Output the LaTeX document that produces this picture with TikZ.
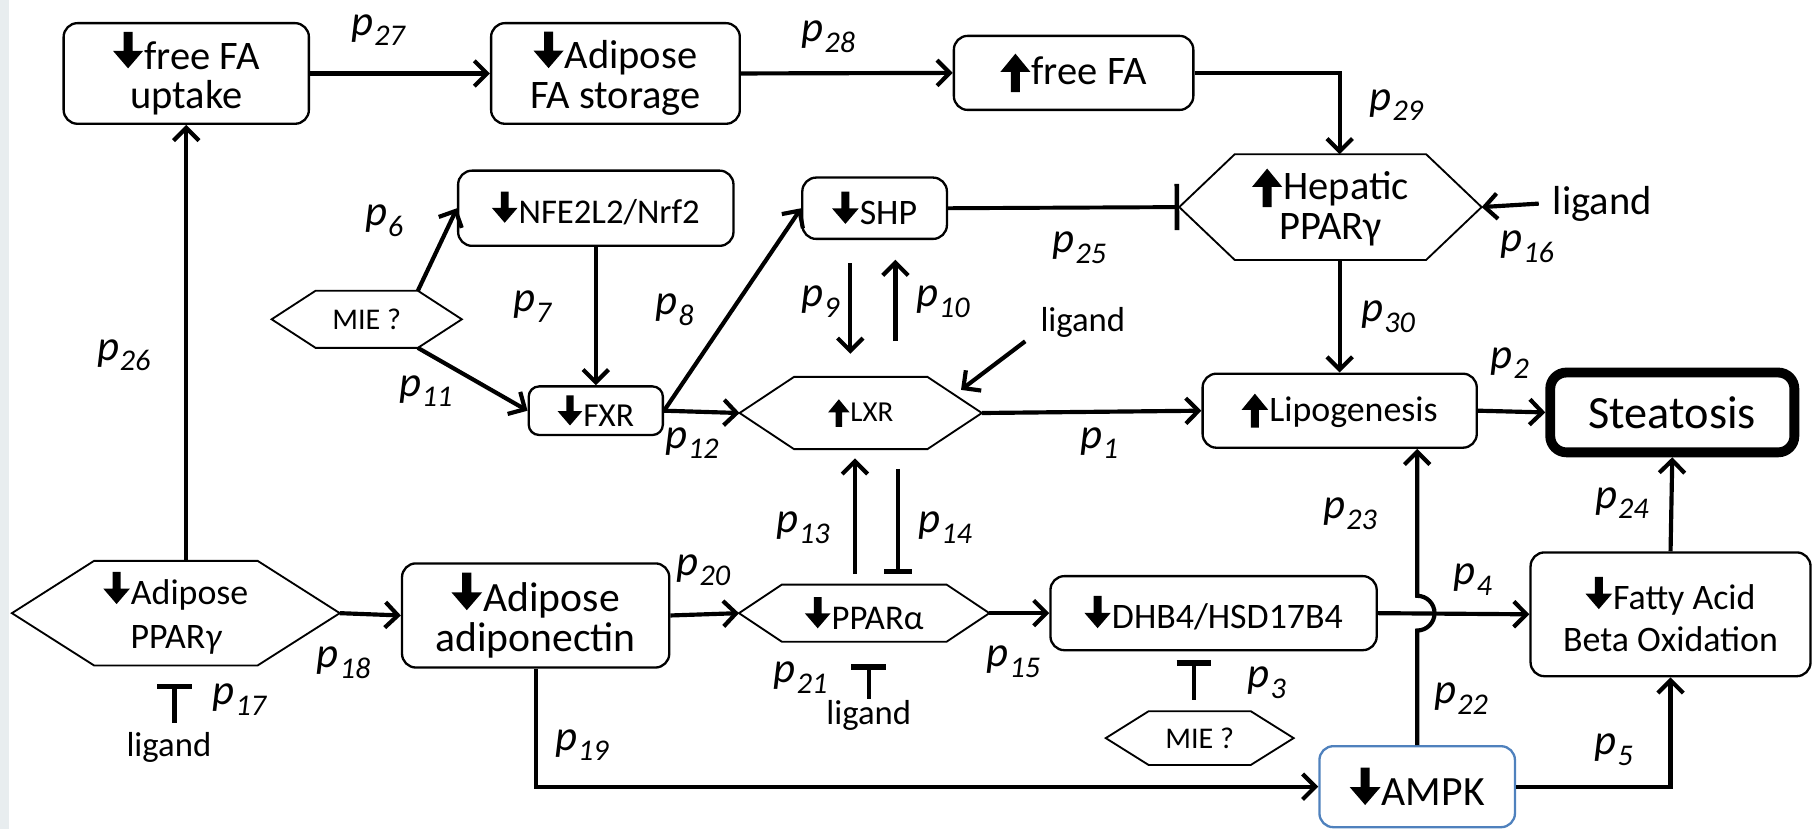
\documentclass[tikz,border=0pt]{standalone}
\usepackage{fontspec}
\setmainfont{Carlito}
\usetikzlibrary{arrows.meta,calc}

\newcommand\fs[2]{\fontsize{#1}{#2}\selectfont}
\newcommand\dnar{\tikz[baseline=0pt,x=1em,y=1em,sharp corners]\fill (-0.11,0.92) -- (0.11,0.92) -- (0.11,0.45) -- (0.37,0.45) -- (0,0.02) -- (-0.37,0.45) -- (-0.11,0.45) -- cycle;\hspace{0.03em}}
\newcommand\upar{\tikz[baseline=0pt,x=1em,y=1em,sharp corners]\fill (-0.11,-0.18) -- (0.11,-0.18) -- (0.11,0.32) -- (0.37,0.32) -- (0,0.77) -- (-0.37,0.32) -- (-0.11,0.32) -- cycle;\hspace{0.03em}}
\newcommand\pl[1]{{\fs{37}{37}\itshape p\kern0.02em\raisebox{-0.25em}{\fs{26}{26}\itshape #1}}}
\newcommand\hexo[2]{\draw[hexline] (#1.west) -- ([xshift=#2pt]#1.north west) -- ([xshift=-#2pt]#1.north east) -- (#1.east) -- ([xshift=-#2pt]#1.south east) -- ([xshift=#2pt]#1.south west) -- cycle;}

\definecolor{ampkblue}{HTML}{4F81BD}
\definecolor{stripgray}{HTML}{E8EDEF}

\tikzset{
  box/.style={draw, rounded corners=12pt, line width=2pt, align=center, inner sep=0pt},
  hexnode/.style={align=center, inner sep=0pt},
  hexline/.style={line width=1.6pt, line join=miter},
  lab/.style={inner sep=0pt},
  lig/.style={inner sep=0pt, font=\fs{30}{30}},
  arr/.style={line width=3.6pt, -{Straight Barb[length=11pt,width=22pt]}},
  inh/.style={line width=4pt, -{Bar[width=30pt,line width=5pt]}},
  inhS/.style={line width=3.6pt, -{Bar[width=24pt,line width=4.5pt]}},
  inhT/.style={line width=3.4pt, -{Bar[width=40pt,line width=4pt]}},
}

\begin{document}
\begin{tikzpicture}[x=1pt,y=-1pt]
\useasboundingbox (0,0) rectangle (1568,717);
\fill[stripgray] (0,0) rectangle (8,717);

% nodes
\node[box, minimum width=212pt, minimum height=87pt, font=\fs{35}{34}] (freeFAup) at (161,63.5) {\dnar free FA\\uptake};
\node[box, minimum width=215pt, minimum height=87pt, font=\fs{35}{34}] (adFAstor) at (532,63.5) {\dnar Adipose\\FA storage};
\node[box, minimum width=207pt, minimum height=64pt, font=\fs{35}{35}] (freeFA) at (928,63) {\upar free FA};
\node[hexnode, minimum width=261pt, minimum height=91pt, font=\fs{35}{34}] (hepPPAR) at (1150,179) {\upar Hepatic\\PPARγ};
\node[box, minimum width=238pt, minimum height=65pt, font=\fs{30}{30}] (NFE) at (515,180) {\dnar NFE2L2/Nrf2};
\node[box, minimum width=125pt, minimum height=53pt, font=\fs{31}{31}] (SHP) at (756,180) {\dnar SHP};
\node[hexnode, minimum width=164pt, minimum height=49pt, font=\fs{26}{26}] (MIE1) at (317,276) {MIE ?};
\node[box, rounded corners=9pt, minimum width=116pt, minimum height=42pt, font=\fs{29}{29}] (FXR) at (515,355) {\dnar FXR};
\node[hexnode, minimum width=209pt, minimum height=62pt, font=\fs{25}{25}] (LXR) at (744,357) {\upar LXR};
\node[box, minimum width=237pt, minimum height=64pt, font=\fs{31}{31}] (Lipo) at (1158,355) {\upar Lipogenesis};
\node[box, line width=8.5pt, rounded corners=14pt, minimum width=211pt, minimum height=69pt, font=\fs{40}{40}] (Steat) at (1445.5,356.5) {Steatosis};
\node[hexnode, minimum width=283pt, minimum height=90pt, font=\fs{31}{38}] (adPPAR) at (152,530) {\dnar Adipose\\PPAR{\itshape γ}};
\node[box, minimum width=231pt, minimum height=90pt, font=\fs{36}{35}] (adipo) at (463,532) {\dnar Adipose\\adiponectin};
\node[hexnode, minimum width=216pt, minimum height=49pt, font=\fs{30}{30}] (PPARa) at (747,530) {\dnar PPARα};
\node[box, minimum width=282pt, minimum height=64pt, font=\fs{31}{31}] (DHB4) at (1049,530) {\dnar DHB4/HSD17B4};
\node[box, minimum width=242pt, minimum height=107pt, font=\fs{31}{36}] (FABO) at (1444,531) {\dnar Fatty Acid\\Beta Oxidation};
\node[hexnode, minimum width=162pt, minimum height=46pt, font=\fs{26}{26}] (MIE2) at (1037,638) {MIE ?};
\node[box, draw=ampkblue, minimum width=169pt, minimum height=70pt, font=\fs{36}{36}] (AMPK) at (1225,680) {\dnar AMPK};

% hexagon outlines
\hexo{hepPPAR}{48}
\hexo{MIE1}{38}
\hexo{LXR}{47}
\hexo{adPPAR}{71}
\hexo{PPARa}{37}
\hexo{MIE2}{37}

% ligand texts
\node[lig, font=\fs{35}{35}] (ligH) at (1385,176) {ligand};
\node[lig] (ligL) at (936,279) {ligand};
\node[lig] (ligA) at (146,646) {ligand};
\node[lig] (ligP) at (751,618) {ligand};

% connectors
\draw[arr] (adPPAR.north -| freeFAup.south) -- (freeFAup.south);
\draw[arr] (freeFAup.east) -- (adFAstor.west);
\draw[arr] (adFAstor.east) -- (freeFA.west);
\draw[arr] (freeFA.east) -| ([xshift=8pt]hepPPAR.north);
\draw[inhT] (SHP.east) -- (hepPPAR.west);
\draw[arr] ([xshift=-12pt]ligH.west) -- (hepPPAR.east);
\draw[arr] ([xshift=-38pt]MIE1.north east) -- (NFE.west);
\draw[arr] ([xshift=-38pt]MIE1.south east) -- (FXR.west);
\draw[arr] (NFE.south) -- (FXR.north);
\draw[arr] (FXR.east) -- (SHP.west);
\draw[arr] (FXR.east) -- (LXR.west);
\draw[arr] ($(SHP.south)+(-21,20)$) -- ($(SHP.south |- LXR.north)+(-21,-20)$);
\draw[arr] ($(SHP.south |- LXR.north)+(18,-31)$) -- ($(SHP.south)+(18,17)$);
\draw[arr] (LXR.east) -- (Lipo.west);
\draw[arr] (hepPPAR.south -| Lipo.north) -- (Lipo.north);
\coordinate (ligLt) at ($(LXR.east)+(-18,-20)$);
\draw[arr] ($(ligL.west)+(-13,16)$) -- (ligLt);
\draw[arr] (Lipo.east) -- (Steat.west);
\draw[arr] ($(PPARa.north)+(-8,-9)$) -- ($(PPARa.north |- LXR.south)+(-8,8)$);
\draw[inhS] ($(PPARa.north |- LXR.south)+(29,17)$) -- ($(PPARa.north)+(29,-9)$);
\draw[arr] (adPPAR.east) -- (adipo.west);
\draw[arr] (adipo.east) -- (PPARa.west);
\draw[arr] (PPARa.east) -- (DHB4.west);
\draw[arr] (DHB4.east) -- (FABO.west);
\draw[arr] (AMPK.north) -- ($(AMPK.north |- DHB4.east)+(0,15)$) arc[start angle=90, end angle=-90, radius=15] -- (AMPK.north |- Lipo.south);
\draw[arr] (adipo.south) |- (AMPK.west);
\draw[arr] (AMPK.east) -| (FABO.south);
\draw[arr] (FABO.north) -- (Steat.south);
\draw[inh] ($(ligA.north)+(5,-8)$) -- ($(ligA.north)+(5,-42)$);
\draw[inh] ($(ligP.north)+(0,-1)$) -- ($(ligP.north)+(0,-31)$);
\draw[inh] ($(MIE2.north)+(-5,-10)$) -- ($(MIE2.north)+(-5,-44)$);

% labels
\node[lab] (l27) at (327,26) {\pl{27}};
\node[lab] (l28) at (716,32) {\pl{28}};
\node[lab] (l29) at (1207,91) {\pl{29}};
\node[lab] (l16) at (1320,213) {\pl{16}};
\node[lab] (l25) at (933,214) {\pl{25}};
\node[lab] (l6) at (332,191) {\pl{6}};
\node[lab] (l7) at (460,265) {\pl{7}};
\node[lab] (l11) at (368,338) {\pl{11}};
\node[lab] (l26) at (107,307) {\pl{26}};
\node[lab] (l8) at (583,268) {\pl{8}};
\node[lab] (l9) at (709,261) {\pl{9}};
\node[lab] (l10) at (815,261) {\pl{10}};
\node[lab] (l12) at (598,383) {\pl{12}};
\node[lab] (l1) at (950,383) {\pl{1}};
\node[lab] (l13) at (694,456) {\pl{13}};
\node[lab] (l14) at (817,456) {\pl{14}};
\node[lab] (l30) at (1200,274) {\pl{30}};
\node[lab] (l2) at (1305,314) {\pl{2}};
\node[lab] (l23) at (1167,444) {\pl{23}};
\node[lab] (l24) at (1402,435) {\pl{24}};
\node[lab] (l20) at (608,493) {\pl{20}};
\node[lab] (l18) at (297,573) {\pl{18}};
\node[lab] (l17) at (207,605) {\pl{17}};
\node[lab] (l19) at (503,644) {\pl{19}};
\node[lab] (l21) at (692,586) {\pl{21}};
\node[lab] (l15) at (876,572) {\pl{15}};
\node[lab] (l3) at (1095,590) {\pl{3}};
\node[lab] (l4) at (1273,501) {\pl{4}};
\node[lab] (l22) at (1263,604) {\pl{22}};
\node[lab] (l5) at (1395,648) {\pl{5}};
\end{tikzpicture}
\end{document}
